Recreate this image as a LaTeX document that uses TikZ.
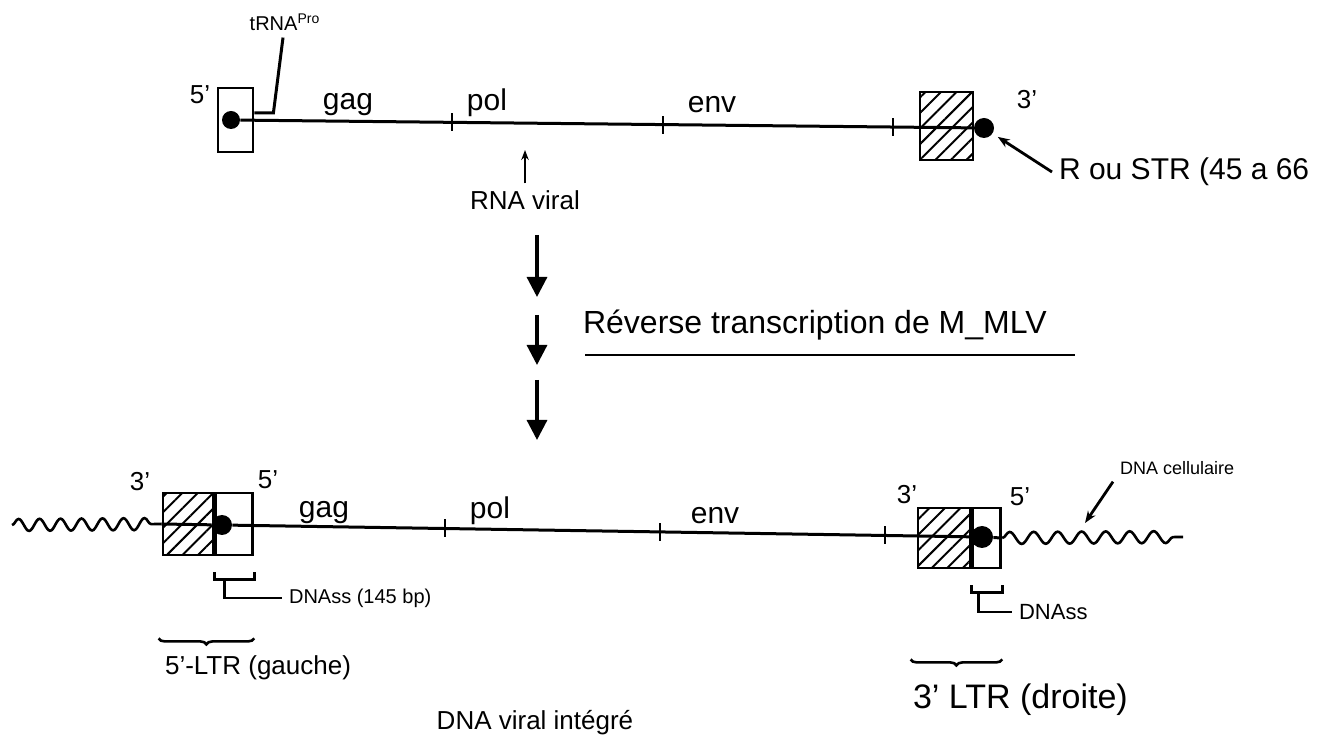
\documentclass[tikz,border=0pt]{standalone}
\usepackage{fontspec}
\setmainfont{Liberation Sans}
\usetikzlibrary{positioning, arrows.meta, decorations.pathmorphing, decorations.pathreplacing, patterns.meta}

\begin{document}
\begin{tikzpicture}[
    x=0.5pt, y=-0.5pt,
    strand/.style={line width=1.5pt},
    ltrbox/.style={rectangle, draw=black, line width=1.4pt, inner sep=0pt},
    hatchbox/.style={ltrbox, pattern={Lines[angle=45, distance=5.5pt, line width=1pt]}},
    endpt/.style={circle, fill=black, inner sep=0pt, minimum size=9pt},
    tickmark/.style={rectangle, fill=black, inner sep=0pt, minimum width=1.4pt, minimum height=9pt},
    gene/.style={font=\fontsize{15}{18}\selectfont},
    lab/.style={font=\fontsize{13}{16}\selectfont},
    smalllab/.style={font=\fontsize{9}{11}\selectfont},
    wave/.style={line width=1.3pt, decorate, decoration={snake, segment length=10.5pt, amplitude=3pt}},
    bigarrow/.style={-{Triangle[length=10pt, width=10pt]}, line width=1.6pt},
    pointer/.style={-{Stealth[length=6pt]}, line width=1.4pt},
    bracket/.style={line width=1.3pt},
    ltrbrace/.style={line width=1.3pt, decorate, decoration={brace, mirror, amplitude=3pt}}
  ]
    \useasboundingbox (0,0) rectangle (1334,753);

    % RNA viral
    \node[ltrbox, minimum width=17.5pt, minimum height=32pt] (u5) at (235.5,120) {};
    \node[endpt] (e5) at (231,120) {};
    \node[hatchbox, minimum width=26.5pt, minimum height=34pt] (u3) at (946.5,126) {};
    \node[endpt, minimum size=10pt] (e3) at (984,128) {};
    \draw[strand] (e5) -- (e3);
    \node[tickmark] (ta1) at (452,122.3) {};
    \node[tickmark] (ta2) at (663,124.6) {};
    \node[tickmark] (ta3) at (893,127) {};

    \node[lab] (p5a) at (200,95) {5'};
    \node[lab] (p3a) at (1027,100) {3'};
    \node[gene] (gaga) at (348,105) {gag};
    \node[gene] (pola) at (487,103) {pol};
    \node[gene] (enva) at (712,105) {env};

    \node[font=\fontsize{10}{12}\selectfont] (trna) at (285,22) {tRNA\textsuperscript{Pro}};
    \draw[strand] ([yshift=3.5pt]u5.east) -- ++(19,0) -- (trna);

    \node[gene, anchor=west] (rstr) at (1052,172) {R ou STR (45 a 66};
    \draw[pointer, shorten >=3pt] (rstr.west) -- (e3);

    \node[lab] (rnav) at (525,200) {RNA viral};
    \coordinate (polmark) at (525,150);
    \draw[pointer, -{Stealth[length=5pt]}] (rnav) -- (polmark);

    % Reverse transcription
    \foreach \i/\ya/\yb in {1/235/297, 2/315/365, 3/380/440} {
      \coordinate (rt\i a) at (537,\ya);
      \coordinate (rt\i b) at (537,\yb);
      \draw[bigarrow] (rt\i a) -- (rt\i b);
    }
    \node[font=\fontsize{16}{19}\selectfont, anchor=west] (rt) at (576,325) {Réverse transcription de M\_MLV};
    \coordinate (ul1) at (585,355);
    \coordinate (ul2) at (1075,355);
    \draw[line width=1.2pt] (ul1) -- (ul2);

    % DNA viral integre
    \node[hatchbox, minimum width=25pt, minimum height=31pt] (h5) at (188,524) {};
    \node[ltrbox, minimum width=18.5pt, minimum height=31pt, anchor=west] (w5) at (h5.east) {};
    \node[endpt, minimum size=10pt] (d5) at (222,525) {};
    \node[hatchbox, minimum width=26pt, minimum height=30pt] (h3) at (944,538) {};
    \node[ltrbox, minimum width=14pt, minimum height=30pt, anchor=west] (w3) at (h3.east) {};
    \node[endpt, minimum size=11pt] (d3) at (982,537) {};
    \draw[strand] (h5.west) -- (d5);
    \draw[strand] (d5) -- (d3);
    \draw[strand] (d3) -- (w3.east);
    \node[tickmark] (tb1) at (445,528.5) {};
    \node[tickmark] (tb2) at (660,531.9) {};
    \node[tickmark] (tb3) at (885,535.5) {};

    \coordinate (wl) at (12,525);
    \coordinate (wr) at (1183,537);
    \draw[wave] (wl) -- (h5.west);
    \draw[wave, decoration={segment length=12pt}] (w3.east) -- (wr);

    \node[lab] (p3b) at (140,482) {3'};
    \node[lab] (p5b) at (268,480) {5'};
    \node[lab] (p3c) at (907,495) {3'};
    \node[lab] (p5c) at (1020,497) {5'};
    \node[gene] (gagb) at (324,513) {gag};
    \node[gene] (polb) at (490,511) {pol};
    \node[gene] (envb) at (715,516) {env};

    \node[smalllab, anchor=west] (dnac) at (1113,468) {DNA cellulaire};
    \coordinate (wavemark) at (1085,523);
    \draw[pointer] (dnac.south west) -- (wavemark);

    % DNAss
    \node[font=\fontsize{10}{12}\selectfont, anchor=west] (ss5) at (282,598) {DNAss (145 bp)};
    \draw[bracket] ([yshift=-8pt]w5.south west) -- ++(0,7) -| ([yshift=-8pt]w5.south east);
    \draw[bracket] ([shift={(5pt,-11.5pt)}]w5.south west) |- (ss5.west);
    \node[font=\fontsize{11}{13}\selectfont, anchor=west] (ss3) at (1012,612) {DNAss};
    \draw[bracket] ([yshift=-8pt]w3.south west) -- ++(0,7) -| ([yshift=-8pt]w3.south east);
    \draw[bracket] ([shift={(3.5pt,-11.5pt)}]w3.south west) |- (ss3.west);

    % LTR
    \draw[ltrbrace] ([shift={(-1.5pt,-41pt)}]h5.south west) -- ([yshift=-41pt]w5.south east);
    \node[lab, anchor=west] (ltr5) at (158,668) {5'-LTR (gauche)};
    \draw[ltrbrace] ([shift={(-3pt,-45pt)}]h3.south west) -- ([yshift=-45pt]w3.south east);
    \node[font=\fontsize{17}{20}\selectfont, anchor=west] (ltr3) at (906,700) {3' LTR (droite)};

    \node[lab] (dnav) at (535,723) {DNA viral intégré};
  \end{tikzpicture}
\end{document}
